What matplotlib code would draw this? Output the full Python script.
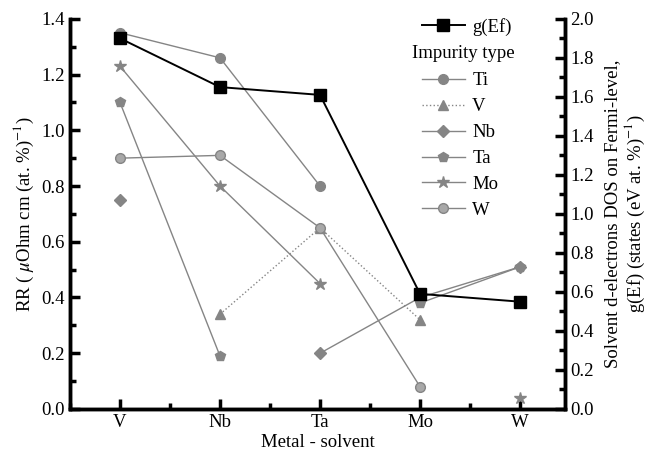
import numpy as np
import matplotlib
matplotlib.use("Agg")
import matplotlib.pyplot as plt
from matplotlib.ticker import MultipleLocator, FormatStrFormatter

plt.rcParams['font.family'] = ['Liberation Serif', 'DejaVu Serif']
plt.rcParams['mathtext.fontset'] = 'stix'

solvents = ['V', 'Nb', 'Ta', 'Mo', 'W']
nan = np.nan

# residual resistivity per impurity (left axis)
rr_ti = [1.35, 1.26, 0.80, nan, nan]
rr_v = [nan, 0.34, 0.65, 0.32, nan]
rr_nb = [0.75, nan, 0.20, 0.40, 0.51]
rr_ta = [1.10, 0.19, nan, 0.38, 0.51]
rr_mo = [1.23, 0.80, 0.45, nan, 0.04]
rr_w = [0.90, 0.91, 0.65, 0.08, nan]

# d-electron DOS at Fermi level (right axis)
g_ef = [1.90, 1.65, 1.61, 0.59, 0.55]

gray = '#858585'
fs = 13.5
x = np.arange(len(solvents))

fig = plt.figure(figsize=(6.54, 4.59), dpi=100)
ax = fig.add_axes([0.107, 0.109, 0.757, 0.850])
ax2 = ax.twinx()

series = [
    ('Ti', rr_ti, 'o', '-', gray),
    ('V', rr_v, '^', ':', gray),
    ('Nb', rr_nb, 'D', '-', gray),
    ('Ta', rr_ta, 'p', '-', gray),
    ('Mo', rr_mo, '*', '-', gray),
    ('W', rr_w, 'o', '-', '#a8a8a8'),
]
handles = []
for name, vals, mk, ls, fc in series:
    ms = 9 if mk == '*' else (6 if mk == 'D' else 7)
    h, = ax.plot(x, vals, color=gray, lw=1.0, ls=ls, marker=mk, ms=ms,
                 mfc=fc, mec=gray, label=name)
    handles.append(h)

gline, = ax2.plot(x, g_ef, color='black', lw=1.4, marker='s', ms=9, label='g(Ef)')

ax.set_xlim(-0.5, 4.45)
ax.set_ylim(0, 1.4)
ax2.set_ylim(0, 2.0)
ax.set_xticks(x)
ax.set_xticklabels(solvents)
ax.xaxis.set_minor_locator(MultipleLocator(0.5))
for a in (ax, ax2):
    a.yaxis.set_major_locator(MultipleLocator(0.2))
    a.yaxis.set_minor_locator(MultipleLocator(0.1))
    a.yaxis.set_major_formatter(FormatStrFormatter('%.1f'))
    for s in a.spines.values():
        s.set_linewidth(2.5)
    a.spines['top'].set_visible(False)
    a.tick_params(which='major', direction='in', length=7, width=2.5, labelsize=fs)
    a.tick_params(which='minor', direction='in', length=4, width=2.5)
ax.tick_params(axis='y', right=False)
ax.tick_params(axis='x', top=False, which='both')

ax.set_xlabel('Metal - solvent', fontsize=fs, labelpad=2)
ax.set_ylabel('RR ( $\\mu$Ohm cm (at. %)$^{-1}$)', fontsize=fs, labelpad=4)
ax2.set_ylabel('Solvent d-electrons DOS on Fermi-level,\ng(Ef) (states (eV at. %)$^{-1}$)',
               fontsize=fs, labelpad=8, linespacing=1.1)

leg1 = ax2.legend([gline], ['g(Ef)'], loc='upper left', bbox_to_anchor=(0.639, 0.969),
                  bbox_transform=fig.transFigure, frameon=False, fontsize=fs,
                  handlelength=2.3, handletextpad=0.4, borderpad=0.2, borderaxespad=0)
ax2.add_artist(leg1)
fig.text(412 / 654, 1 - 53 / 459, 'Impurity type', fontsize=fs, va='center', ha='left')
leg2 = ax2.legend(handles, [h.get_label() for h in handles], loc='upper left',
                  bbox_to_anchor=(0.639, 0.851), bbox_transform=fig.transFigure,
                  frameon=False, fontsize=fs, handlelength=2.3, handletextpad=0.4,
                  labelspacing=0.47, borderpad=0.2, borderaxespad=0)

fig.savefig('out.png', dpi=100)
